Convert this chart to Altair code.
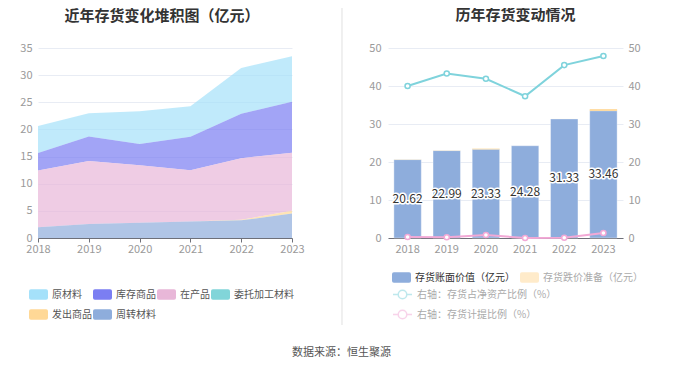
import altair as alt
import pandas as pd

FONT = "Noto Sans CJK SC"

years = ["2018", "2019", "2020", "2021", "2022", "2023"]

# Left chart: inventory composition (亿元)
cats = ["原材料", "库存商品", "在产品", "委托加工材料", "发出商品", "周转材料"]
cat_colors = ["#a5e1fa", "#7b7ef2", "#e8b7d8", "#81d5d9", "#ffd896", "#8eaddc"]
raw = [4.97, 4.29, 6.03, 5.63, 8.43, 8.36]          # 原材料
stock = [3.20, 4.50, 3.90, 6.15, 8.20, 9.40]        # 库存商品
wip = [10.45, 11.60, 10.60, 9.45, 11.35, 10.70]     # 在产品
consigned = [0.00, 0.00, 0.00, 0.00, 0.00, 0.00]    # 委托加工材料
shipped = [0.00, 0.00, 0.00, 0.00, 0.10, 0.50]      # 发出商品
turnover = [2.00, 2.60, 2.80, 3.05, 3.25, 4.50]     # 周转材料
stack_rank = [5, 4, 3, 2, 1, 0]

# Right chart
book = [20.62, 22.99, 23.33, 24.28, 31.33, 33.46]       # 存货账面价值
provision = [0.05, 0.05, 0.19, 0.00, 0.01, 0.45]        # 存货跌价准备
asset_ratio = [40.0, 43.3, 41.9, 37.3, 45.5, 47.9]      # 存货占净资产比例
prov_ratio = [0.25, 0.2, 0.8, 0.0, 0.05, 1.3]           # 存货计提比例

book_name = "存货账面价值（亿元）"
prov_name = "存货跌价准备（亿元）"
line_names = ["右轴：存货占净资产比例（%）", "右轴：存货计提比例（%）"]
line_colors = ["#7fd3dc", "#f2a9d6"]

# ---------- tables ----------
rows = []
for name, vals, rk in zip(cats, [raw, stock, wip, consigned, shipped, turnover], stack_rank):
    for y, v in zip(years, vals):
        rows.append({"year": y, "cat": name, "value": v, "rk": rk})
df_left = pd.DataFrame(rows)

df_bar = pd.DataFrame({"year": years, "book": book, "prov": provision})
df_bar["top"] = df_bar["book"] + df_bar["prov"]
df_bar["mid"] = df_bar["book"] / 2
df_bar["label"] = [f"{v:.2f}" for v in book]
df_bar["s_book"] = book_name
df_bar["s_prov"] = prov_name

lrows = []
for name, vals in zip(line_names, [asset_ratio, prov_ratio]):
    for y, v in zip(years, vals):
        lrows.append({"year": y, "series": name, "val": v})
df_line = pd.DataFrame(lrows)

RECT = ("M-0.8,-0.55 L0.8,-0.55 Q1,-0.55 1,-0.35 L1,0.35 Q1,0.55 0.8,0.55 "
        "L-0.8,0.55 Q-1,0.55 -1,0.35 L-1,-0.35 Q-1,-0.55 -0.8,-0.55 Z")
LINEPT = ("M-1,0 L-0.45,0 M0.45,0 L1,0 M-0.45,0 A0.45,0.45 0 1,0 0.45,0 "
          "A0.45,0.45 0 1,0 -0.45,0")

grid_color = "#e8ecf4"
lab_color = "#9a9a9a"

# ---------- left chart ----------
left = alt.Chart(df_left).mark_area(opacity=0.7).encode(
    x=alt.X("year:O", scale=alt.Scale(type="point", padding=0),
            axis=alt.Axis(title=None, labelAngle=0, domainColor="#6e7079", tickColor="#6e7079",
                          tickSize=4, labelPadding=1, grid=False, labelColor=lab_color,
                          labelFontSize=11)),
    y=alt.Y("value:Q", stack="zero", scale=alt.Scale(domain=[0, 35], nice=False),
            axis=alt.Axis(title=None, values=[0, 5, 10, 15, 20, 25, 30, 35], domain=False,
                          ticks=False, gridColor=grid_color, labelColor=lab_color,
                          labelFontSize=11, labelPadding=6)),
    color=alt.Color("cat:N", scale=alt.Scale(domain=cats, range=cat_colors),
                    legend=alt.Legend(title=None, orient="none", legendX=-9, legendY=237,
                                      direction="horizontal", columns=4, gridAlign="none",
                                      symbolType=RECT, symbolSize=361, symbolOpacity=1,
                                      labelFontSize=10, labelColor="#555", labelOffset=4,
                                      columnPadding=1, rowPadding=5, symbolStrokeWidth=0)),
    order=alt.Order("rk:Q", sort="ascending"),
).properties(
    width=254, height=190,
    title=alt.Title("近年存货变化堆积图（亿元）", fontSize=15, fontWeight="bold",
                    color="#333", anchor="middle", offset=18, dx=-3, frame="group"),
)

# ---------- right chart ----------
xenc = alt.X("year:N", scale=alt.Scale(paddingInner=0.3, paddingOuter=0.15),
             axis=alt.Axis(title=None, labelAngle=0, domainColor="#6e7079", ticks=False,
                           labelPadding=5, grid=False, labelColor=lab_color, labelFontSize=11))
yaxis_left = alt.Axis(title=None, values=[0, 10, 20, 30, 40, 50], domain=False, ticks=False,
                      gridColor=grid_color, labelColor=lab_color, labelFontSize=11,
                      labelPadding=7, orient="left")
yscale = alt.Scale(domain=[0, 50], nice=False)

bars_book = alt.Chart(df_bar).mark_bar(stroke="#ffffff", strokeWidth=0.6, strokeOpacity=0.6).encode(
    x=xenc, y=alt.Y("book:Q", stack=None, scale=yscale, axis=yaxis_left),
    fill=alt.Fill("s_book:N", scale=alt.Scale(domain=[book_name], range=["#8eaddc"]),
                  legend=alt.Legend(title=None, orient="none", legendX=4, legendY=220,
                                    symbolType=RECT, symbolSize=361, labelFontSize=10,
                                    labelColor="#333", labelOffset=4, symbolStrokeWidth=0)),
)
bars_prov = alt.Chart(df_bar).mark_bar().encode(
    x=xenc, y=alt.Y("book:Q", stack=None, scale=yscale, axis=yaxis_left), y2="top:Q",
    color=alt.Color("s_prov:N", scale=alt.Scale(domain=[prov_name], range=["#ffd896"]),
                    legend=alt.Legend(title=None, orient="none", legendX=132, legendY=220,
                                      symbolType=RECT, symbolSize=361, symbolOpacity=0.5,
                                      labelFontSize=10, labelColor="#aaa", labelOffset=4,
                                      symbolStrokeWidth=0)),
)
halo = alt.Chart(df_bar).mark_text(fontSize=12, fill="white", stroke="white", strokeWidth=3,
                                   strokeJoin="round").encode(
    x=xenc, y=alt.Y("mid:Q", scale=yscale, axis=yaxis_left), text="label:N")
txt = alt.Chart(df_bar).mark_text(fontSize=12, color="#333").encode(
    x=xenc, y=alt.Y("mid:Q", scale=yscale, axis=yaxis_left), text="label:N")
sep = alt.Chart(df_bar).mark_rule(color="#efefef", strokeWidth=1).encode(
    x=alt.value(-46), y=alt.value(-40), y2=alt.value(277))

bars_layer = alt.layer(sep, bars_book, bars_prov, halo, txt)

lines = alt.Chart(df_line).mark_line(
    strokeWidth=2,
    point=alt.OverlayMarkDef(filled=False, fill="white", size=26, strokeWidth=1.5),
).encode(
    x=xenc,
    y=alt.Y("val:Q", scale=alt.Scale(domain=[0, 50], nice=False),
            axis=alt.Axis(title=None, orient="right", values=[0, 10, 20, 30, 40, 50],
                          domain=False, ticks=False, grid=False, labelColor=lab_color,
                          labelFontSize=11, labelPadding=5)),
    stroke=alt.Stroke("series:N", scale=alt.Scale(domain=line_names, range=line_colors),
                      legend=alt.Legend(title=None, orient="none", legendX=4, legendY=236,
                                        direction="vertical", symbolType=LINEPT, symbolSize=361,
                                        symbolOpacity=0.5, symbolStrokeWidth=1.5,
                                        symbolFillColor="white", labelFontSize=10,
                                        labelColor="#aaa", labelOffset=4, rowPadding=2)),
)

right = alt.layer(bars_layer, lines).resolve_scale(y="independent").properties(
    width=235, height=190,
    title=alt.Title("历年存货变动情况", fontSize=15, fontWeight="bold",
                    color="#333", anchor="middle", offset=-15, dx=10, frame="group"),
)

chart = alt.hconcat(left, right, spacing=96, bounds="flush").resolve_scale(
    color="independent", fill="independent", stroke="independent"
).properties(
    title=alt.Title("数据来源：恒生聚源", orient="bottom", anchor="middle", fontSize=11,
                    fontWeight="normal", color="#555", offset=21, dx=10),
    padding={"left": 30, "top": 40, "right": 630, "bottom": 310},
    autosize=alt.AutoSizeParams(type="none"),
).configure(font=FONT).configure_view(stroke=None)

chart.save("out.html", embed_options={"renderer": "svg", "actions": False})
